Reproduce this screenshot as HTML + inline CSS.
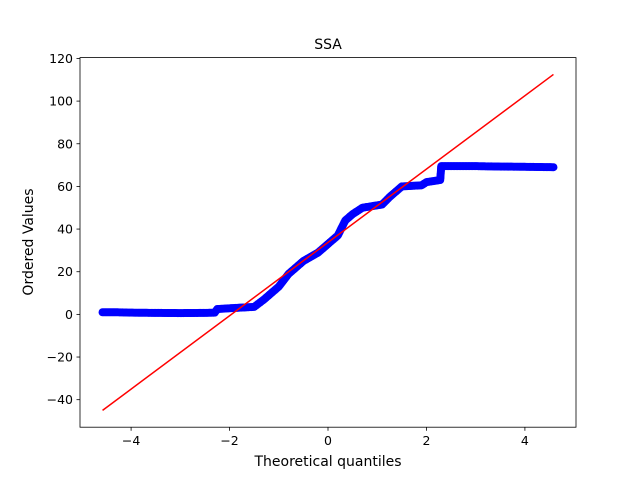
<!DOCTYPE html>
<html><head><meta charset="utf-8"><style>
html,body{margin:0;padding:0;background:#fff;}
svg text{font-family:"DejaVu Sans","Liberation Sans",sans-serif;}
</style></head><body>
<svg id="chart" width="640" height="480" xmlns="http://www.w3.org/2000/svg">
<rect width="640" height="480" fill="#fff"/>
<g id="marks"></g>
<rect x="80" y="57.6" width="496" height="369.6" fill="none" stroke="#000" stroke-width="0.8"/>
<g id="ticks"></g>
<text x="328" y="49" font-size="14" text-anchor="middle">SSA</text>
<text x="328" y="466" font-size="14" text-anchor="middle">Theoretical quantiles</text>
<text transform="translate(33,242) rotate(-90)" font-size="14" text-anchor="middle">Ordered Values</text>
</svg>
<script>
const curveX = [-4.58,-4.3,-4.0,-3.5,-3.0,-2.5,-2.3,-2.25,-1.9,-1.5,-1.3,-1.0,-0.8,-0.5,-0.2,0,0.2,0.35,0.5,0.7,1.1,1.25,1.5,1.9,2.0,2.28,2.3,3.0,3.5,4.0,4.58];
const curveY = [1,1,0.8,0.7,0.6,0.7,0.8,2.5,3,3.5,7,13,19,25,29,33,37,44,47,50,51.5,55,60,60.5,62,63,69.5,69.5,69.3,69.2,69];
const lineX = [-4.58, 4.58];
const lineY = [-45, 112.5];
const xTicks = [-4,-2,0,2,4];
const yTicks = [-40,-20,0,20,40,60,80,100,120];
const X0=-5.038,X1=5.038,Y0=-52.9,Y1=120.4;
const L=80,R=576,T=57.6,B=427.2;
const sx=v=>L+(v-X0)/(X1-X0)*(R-L);
const sy=v=>B-(v-Y0)/(Y1-Y0)*(B-T);
const NS="http://www.w3.org/2000/svg";
const marks=document.getElementById('marks');
const ticks=document.getElementById('ticks');
function dot(x,y){
  const c=document.createElementNS(NS,'circle');
  c.setAttribute('cx',x);c.setAttribute('cy',y);
  c.setAttribute('r',4);c.setAttribute('fill','#0000ff');
  
  
  marks.appendChild(c);
}
for(let i=0;i<curveX.length-1;i++){
  const x0=sx(curveX[i]),y0=sy(curveY[i]),x1=sx(curveX[i+1]),y1=sy(curveY[i+1]);
  const n=Math.max(1,Math.ceil(Math.hypot(x1-x0,y1-y0)/1.5));
  for(let k=0;k<n;k++){const t=k/n;dot(x0+(x1-x0)*t,y0+(y1-y0)*t);}
}
dot(sx(curveX[curveX.length-1]),sy(curveY[curveY.length-1]));
const ln=document.createElementNS(NS,'line');
ln.setAttribute('x1',sx(lineX[0]));ln.setAttribute('y1',sy(lineY[0]));
ln.setAttribute('x2',sx(lineX[1]));ln.setAttribute('y2',sy(lineY[1]));
ln.setAttribute('stroke','#ff0000');ln.setAttribute('stroke-width',1.5);


marks.appendChild(ln);
xTicks.forEach(v=>{
  const x=sx(v);
  const t=document.createElementNS(NS,'line');
  t.setAttribute('x1',x);t.setAttribute('x2',x);t.setAttribute('y1',B);t.setAttribute('y2',B+3.5);
  t.setAttribute('stroke','#000');t.setAttribute('stroke-width',0.8);
  
  
  ticks.appendChild(t);
  const s=document.createElementNS(NS,'text');
  s.setAttribute('x',x);s.setAttribute('y',B+18);s.setAttribute('font-size',12.5);s.setAttribute('text-anchor','middle');
  s.textContent=(v<0?'\u2212'+(-v):v);
  
  
  ticks.appendChild(s);
});
yTicks.forEach(v=>{
  const y=sy(v);
  const t=document.createElementNS(NS,'line');
  t.setAttribute('x1',L-3.5);t.setAttribute('x2',L);t.setAttribute('y1',y);t.setAttribute('y2',y);
  t.setAttribute('stroke','#000');t.setAttribute('stroke-width',0.8);
  
  
  ticks.appendChild(t);
  const s=document.createElementNS(NS,'text');
  s.setAttribute('x',L-7);s.setAttribute('y',y+4.5);s.setAttribute('font-size',12.5);s.setAttribute('text-anchor','end');
  s.textContent=(v<0?'\u2212'+(-v):v);
  
  
  ticks.appendChild(s);
});
</script>
</body></html>
